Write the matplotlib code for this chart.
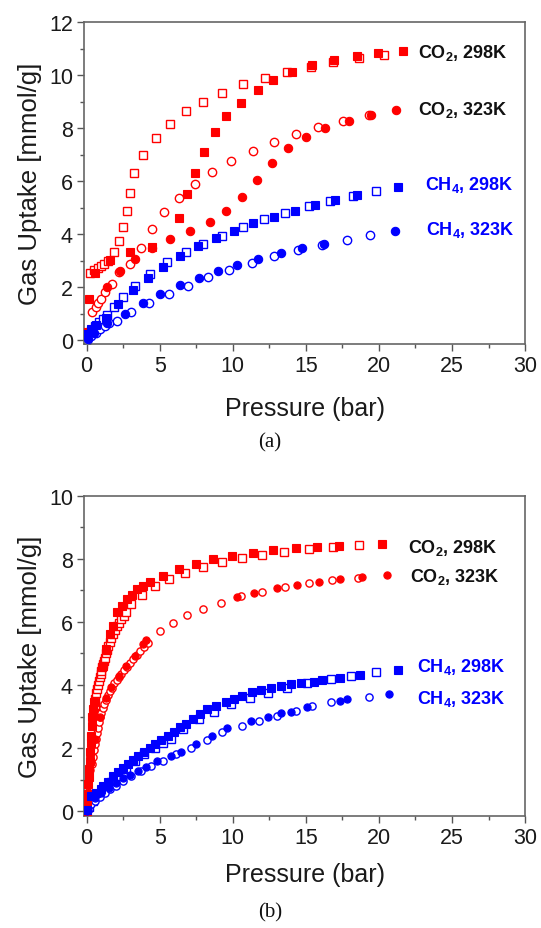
import matplotlib
matplotlib.use("Agg")
import matplotlib.pyplot as plt
from matplotlib.ticker import MultipleLocator

plt.rcParams['font.family'] = ['Liberation Sans', 'DejaVu Sans']
plt.rcParams['mathtext.fontset'] = 'custom'
plt.rcParams['mathtext.rm'] = 'Liberation Sans'
plt.rcParams['mathtext.bf'] = 'Liberation Sans:bold'

RED = '#ff0000'
BLUE = '#0000ff'

# ---------------- Panel (a) ----------------
a_co2_298_fill_x = [0.05, 0.18, 0.59, 1.6, 2.99, 4.45, 6.29, 6.85, 7.42, 8.03, 8.79, 9.54, 10.59, 11.73, 12.78, 14.03, 15.45, 16.96, 18.49, 19.93, 21.68]
a_co2_298_fill_y = [0.3, 1.55, 2.52, 3.03, 3.31, 3.52, 4.61, 5.5, 6.31, 7.11, 7.86, 8.45, 8.94, 9.42, 9.82, 10.12, 10.38, 10.57, 10.71, 10.82, 10.92]
a_co2_298_open_x = [0.23, 0.52, 0.75, 0.98, 1.2, 1.45, 1.85, 2.18, 2.46, 2.74, 2.97, 3.26, 3.88, 4.75, 5.71, 6.78, 7.99, 9.27, 10.71, 12.23, 13.74, 15.34, 16.89, 18.67, 20.38]
a_co2_298_open_y = [2.53, 2.64, 2.72, 2.8, 2.88, 3.0, 3.33, 3.75, 4.25, 4.88, 5.55, 6.29, 6.98, 7.63, 8.15, 8.63, 8.99, 9.32, 9.66, 9.9, 10.1, 10.32, 10.48, 10.63, 10.75]

a_co2_323_fill_x = [0.05, 1.37, 2.28, 3.29, 4.45, 5.68, 7.08, 8.45, 9.54, 10.64, 11.69, 12.69, 13.81, 15.02, 16.32, 17.92, 19.45, 21.16]
a_co2_323_fill_y = [0.2, 1.99, 2.62, 3.06, 3.48, 3.83, 4.1, 4.46, 4.88, 5.41, 6.04, 6.69, 7.23, 7.67, 7.99, 8.28, 8.49, 8.68]
a_co2_323_open_x = [0.38, 0.61, 0.77, 0.96, 1.23, 1.71, 2.23, 2.97, 3.72, 4.45, 5.32, 6.3, 7.41, 8.56, 9.91, 11.35, 12.79, 14.36, 15.86, 17.53, 19.29]
a_co2_323_open_y = [1.05, 1.23, 1.4, 1.55, 1.8, 2.11, 2.55, 2.87, 3.46, 4.19, 4.84, 5.37, 5.88, 6.33, 6.74, 7.14, 7.48, 7.78, 8.05, 8.28, 8.49]

a_ch4_298_fill_x = [0.05, 0.3, 0.65, 1.3, 2.14, 3.16, 4.2, 5.25, 6.39, 7.64, 8.86, 10.09, 11.41, 12.85, 14.27, 15.64, 17.0, 18.53, 21.34]
a_ch4_298_fill_y = [0.22, 0.42, 0.58, 0.85, 1.35, 1.9, 2.35, 2.77, 3.18, 3.56, 3.84, 4.12, 4.4, 4.63, 4.88, 5.09, 5.29, 5.47, 5.76]
a_ch4_298_open_x = [0.0, 0.27, 0.57, 0.84, 1.12, 1.41, 1.87, 2.51, 3.31, 4.32, 5.52, 6.78, 7.94, 9.25, 10.68, 12.14, 13.57, 15.25, 16.66, 18.22, 19.82]
a_ch4_298_open_y = [0.1, 0.35, 0.54, 0.67, 0.79, 0.94, 1.23, 1.61, 2.03, 2.49, 2.93, 3.33, 3.64, 3.94, 4.25, 4.57, 4.8, 5.05, 5.26, 5.45, 5.64]

a_ch4_323_fill_x = [0.1, 0.5, 1.4, 2.64, 3.86, 5.04, 6.39, 7.66, 9.01, 10.32, 11.75, 13.3, 14.73, 16.21, 21.07]
a_ch4_323_fill_y = [0.05, 0.28, 0.65, 1.0, 1.41, 1.74, 2.06, 2.35, 2.62, 2.83, 3.06, 3.27, 3.47, 3.62, 4.12]
a_ch4_323_open_x = [0.05, 0.32, 0.61, 0.91, 1.23, 1.53, 2.1, 3.01, 4.27, 5.64, 6.96, 8.32, 9.77, 11.3, 12.79, 14.43, 16.1, 17.81, 19.4]
a_ch4_323_open_y = [-0.05, 0.16, 0.26, 0.42, 0.54, 0.64, 0.73, 1.05, 1.4, 1.74, 2.05, 2.38, 2.65, 2.91, 3.16, 3.39, 3.58, 3.79, 3.96]

# ---------------- Panel (b) ----------------
b_co2_298_fill_x = [0.02, 0.04, 0.07, 0.1, 0.13, 0.17, 0.2, 0.24, 0.28, 0.32, 0.36, 0.4, 0.45, 0.5, 1.1, 1.35, 1.57, 1.8, 2.1, 2.44, 2.78, 3.12, 3.47, 3.88, 4.31, 5.25, 6.32, 7.49, 8.64, 9.97, 11.36, 12.75, 14.3, 15.78, 17.3, 20.22]
b_co2_298_fill_y = [0.02, 0.28, 0.55, 0.85, 1.1, 1.35, 1.6, 1.87, 2.15, 2.4, 2.7, 3.0, 3.25, 3.47, 4.61, 5.15, 5.61, 5.87, 6.3, 6.51, 6.72, 6.84, 7.03, 7.14, 7.25, 7.46, 7.67, 7.85, 7.98, 8.1, 8.18, 8.27, 8.33, 8.38, 8.42, 8.46]
b_co2_298_open_x = [0.5, 0.55, 0.6, 0.66, 0.72, 0.77, 0.83, 0.89, 0.95, 1.0, 1.06, 1.12, 1.18, 1.23, 1.32, 1.41, 1.49, 1.57, 1.68, 1.8, 1.93, 2.07, 2.22, 2.37, 2.54, 2.71, 3.06, 3.8, 4.7, 5.66, 6.74, 7.96, 9.25, 10.62, 12.03, 13.5, 15.21, 16.85, 18.63]
b_co2_298_open_y = [3.2, 3.38, 3.55, 3.75, 3.88, 4.0, 4.12, 4.24, 4.35, 4.45, 4.56, 4.66, 4.77, 4.87, 5.0, 5.11, 5.23, 5.35, 5.48, 5.61, 5.74, 5.87, 5.98, 6.09, 6.2, 6.3, 6.56, 6.86, 7.14, 7.37, 7.56, 7.75, 7.9, 8.03, 8.12, 8.21, 8.3, 8.38, 8.43]

b_co2_323_fill_x = [0.02, 0.05, 0.08, 0.12, 0.16, 0.21, 0.27, 0.6, 0.9, 1.3, 1.7, 2.2, 2.71, 3.28, 3.85, 4.08, 10.28, 11.45, 13.02, 14.37, 15.89, 17.37, 18.85, 20.52]
b_co2_323_fill_y = [0.08, 0.3, 0.55, 0.8, 1.05, 1.3, 1.55, 2.3, 3.0, 3.6, 3.95, 4.3, 4.6, 4.92, 5.29, 5.43, 6.8, 6.92, 7.06, 7.16, 7.25, 7.35, 7.42, 7.48]
b_co2_323_open_x = [0.35, 0.42, 0.5, 0.56, 0.62, 0.68, 0.75, 0.82, 0.91, 1.0, 1.1, 1.2, 1.32, 1.45, 1.59, 1.73, 1.9, 2.05, 2.2, 2.37, 2.55, 2.75, 2.97, 3.2, 3.42, 3.67, 3.92, 4.2, 5.0, 5.9, 6.89, 7.98, 9.21, 10.58, 12.02, 13.54, 15.21, 16.81, 18.56]
b_co2_323_open_y = [1.5, 1.72, 1.95, 2.12, 2.3, 2.47, 2.65, 2.82, 2.98, 3.12, 3.27, 3.4, 3.54, 3.67, 3.8, 3.92, 4.05, 4.15, 4.25, 4.36, 4.47, 4.58, 4.7, 4.83, 4.95, 5.07, 5.2, 5.33, 5.72, 5.98, 6.22, 6.42, 6.61, 6.82, 6.96, 7.11, 7.22, 7.32, 7.4]

b_ch4_298_fill_x = [0.05, 0.32, 0.66, 0.96, 1.12, 1.46, 1.8, 2.14, 2.48, 2.83, 3.17, 3.51, 3.92, 4.31, 4.7, 5.11, 5.56, 5.97, 6.36, 6.82, 7.27, 7.73, 8.25, 8.82, 9.51, 10.08, 10.65, 11.33, 11.9, 12.59, 13.27, 13.95, 14.64, 15.55, 16.12, 17.37, 18.74, 21.29]
b_ch4_298_fill_y = [0.05, 0.47, 0.58, 0.71, 0.79, 0.94, 1.11, 1.23, 1.37, 1.5, 1.63, 1.76, 1.87, 1.99, 2.13, 2.27, 2.39, 2.52, 2.66, 2.78, 2.92, 3.08, 3.24, 3.34, 3.47, 3.55, 3.66, 3.77, 3.85, 3.92, 3.97, 4.03, 4.05, 4.1, 4.15, 4.23, 4.32, 4.47]
b_ch4_298_open_x = [0.15, 0.45, 0.8, 1.2, 1.65, 2.14, 2.71, 3.28, 3.95, 4.65, 5.2, 5.79, 6.61, 7.68, 8.71, 9.85, 11.17, 12.4, 13.68, 15.05, 16.69, 18.06, 19.77]
b_ch4_298_open_y = [0.15, 0.33, 0.52, 0.72, 0.92, 1.11, 1.34, 1.58, 1.8, 1.99, 2.15, 2.3, 2.6, 2.92, 3.16, 3.4, 3.59, 3.74, 3.89, 4.06, 4.19, 4.27, 4.4]

b_ch4_323_fill_x = [0.05, 0.55, 1.0, 1.5, 2.0, 2.5, 3.0, 3.51, 4.08, 4.8, 5.79, 6.48, 7.5, 8.6, 9.62, 11.22, 12.4, 13.27, 13.95, 15.09, 17.37, 17.83, 20.68]
b_ch4_323_fill_y = [0.02, 0.41, 0.58, 0.75, 0.9, 1.04, 1.16, 1.28, 1.39, 1.58, 1.76, 1.87, 2.13, 2.4, 2.63, 2.87, 2.99, 3.1, 3.15, 3.29, 3.5, 3.55, 3.71]
b_ch4_323_open_x = [0.15, 0.32, 0.55, 0.89, 1.25, 1.6, 2.03, 2.5, 3.06, 3.7, 4.42, 5.22, 6.1, 7.16, 8.25, 9.28, 10.65, 11.79, 13.04, 14.3, 15.43, 16.69, 19.31]
b_ch4_323_open_y = [0.08, 0.23, 0.34, 0.44, 0.57, 0.69, 0.81, 0.95, 1.11, 1.28, 1.44, 1.6, 1.8, 2.0, 2.27, 2.5, 2.69, 2.87, 3.03, 3.18, 3.32, 3.45, 3.63]

labels = ["CO$_\\mathbf{2}$, 298K", "CO$_\\mathbf{2}$, 323K", "CH$_\\mathbf{4}$, 298K", "CH$_\\mathbf{4}$, 323K"]
label_colors = ['#111111', '#111111', BLUE, BLUE]
a_label_pos = [(22.7, 10.87), (22.7, 8.72), (23.17, 5.89), (23.24, 4.19)]
b_label_pos = [(22.0, 8.36), (22.1, 7.45), (22.64, 4.6), (22.64, 3.59)]

fig = plt.figure(figsize=(5.41, 9.29), dpi=100)
ax_a = fig.add_axes([0.1553, 0.6286, 0.8152, 0.3466])
ax_b = fig.add_axes([0.1553, 0.1209, 0.8152, 0.3445])


def draw(ax, series, ms, label_pos, ymax, ymin, xpad):
    for x, y, col, mk, filled in series:
        if filled:
            ax.plot(x, y, ls='none', marker=mk, ms=ms, mfc=col, mec=col, mew=0.8, zorder=3)
        else:
            ax.plot(x, y, ls='none', marker=mk, ms=ms, mfc='white', mec=col, mew=1.0, zorder=2)
    for (tx, ty), txt, c in zip(label_pos, labels, label_colors):
        ax.text(tx, ty, txt, color=c, fontsize=13, fontweight='bold', ha='left', va='center')
    ax.set_xlim(-0.18, 30)
    ax.set_ylim(ymin, ymax)
    ax.xaxis.set_major_locator(MultipleLocator(5))
    ax.xaxis.set_minor_locator(MultipleLocator(2.5))
    ax.yaxis.set_major_locator(MultipleLocator(2))
    ax.yaxis.set_minor_locator(MultipleLocator(1))
    ax.tick_params(which='both', direction='out', top=False, right=False, colors='#555555',
                   labelcolor='#1a1a1a', labelsize=15.5, width=1.0)
    ax.tick_params(which='major', length=5, pad=3)
    ax.tick_params(which='minor', length=3)
    for s in ax.spines.values():
        s.set_color('#666666')
        s.set_linewidth(1.2)
    ax.set_xlabel('Pressure (bar)', fontsize=18, color='#1a1a1a', labelpad=xpad)
    ax.set_ylabel('Gas Uptake [mmol/g]', fontsize=18.5, color='#1a1a1a', labelpad=5)


series_a = [
    (a_co2_298_open_x, a_co2_298_open_y, RED, 's', False),
    (a_co2_323_open_x, a_co2_323_open_y, RED, 'o', False),
    (a_ch4_298_open_x, a_ch4_298_open_y, BLUE, 's', False),
    (a_ch4_323_open_x, a_ch4_323_open_y, BLUE, 'o', False),
    (a_co2_298_fill_x, a_co2_298_fill_y, RED, 's', True),
    (a_co2_323_fill_x, a_co2_323_fill_y, RED, 'o', True),
    (a_ch4_298_fill_x, a_ch4_298_fill_y, BLUE, 's', True),
    (a_ch4_323_fill_x, a_ch4_323_fill_y, BLUE, 'o', True),
]
series_b = [
    (b_co2_298_open_x, b_co2_298_open_y, RED, 's', False),
    (b_co2_323_open_x, b_co2_323_open_y, RED, 'o', False),
    (b_ch4_298_open_x, b_ch4_298_open_y, BLUE, 's', False),
    (b_ch4_323_open_x, b_ch4_323_open_y, BLUE, 'o', False),
    (b_co2_298_fill_x, b_co2_298_fill_y, RED, 's', True),
    (b_co2_323_fill_x, b_co2_323_fill_y, RED, 'o', True),
    (b_ch4_298_fill_x, b_ch4_298_fill_y, BLUE, 's', True),
    (b_ch4_323_fill_x, b_ch4_323_fill_y, BLUE, 'o', True),
]

draw(ax_a, series_a, 6.0, a_label_pos, 12, -0.15, 14)
draw(ax_b, series_b, 5.2, b_label_pos, 10, -0.14, 10)

fig.text(0.499, 1 - 443 / 929, '(a)', family=['Liberation Serif', 'DejaVu Serif'], fontsize=15,
         ha='center', va='center', color='#111111')
fig.text(0.499, 1 - 913 / 929, '(b)', family=['Liberation Serif', 'DejaVu Serif'], fontsize=15,
         ha='center', va='center', color='#111111')

fig.savefig('out.png', dpi=100)
